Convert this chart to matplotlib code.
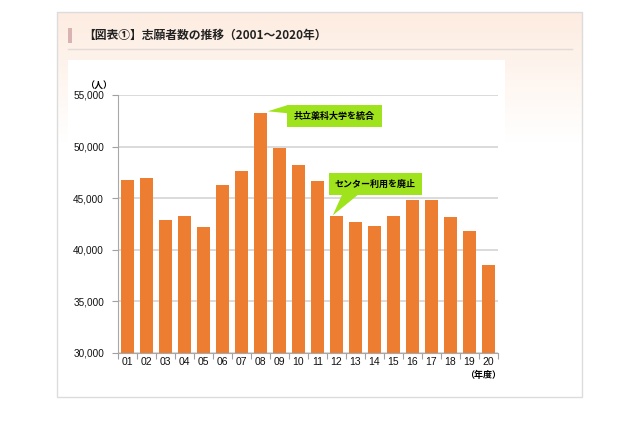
import numpy as np
import matplotlib
matplotlib.use("Agg")
from matplotlib import pyplot as plt
from matplotlib.patches import Rectangle, Polygon

plt.rcParams['font.family'] = ['Liberation Sans', 'Noto Sans CJK JP', 'DejaVu Sans']

# Data
years = ["01", "02", "03", "04", "05", "06", "07", "08", "09", "10",
         "11", "12", "13", "14", "15", "16", "17", "18", "19", "20"]
applicants = [46800, 47000, 42900, 43250, 42200, 46300, 47650, 53300, 49900, 48200,
              46700, 43250, 42700, 42350, 43280, 44800, 44830, 43200, 41800, 38500]
y_ticks = [30000, 35000, 40000, 45000, 50000, 55000]
title = "【図表①】志願者数の推移（2001～2020年）"
note1 = "共立薬科大学を統合"
note2 = "センター利用を廃止"

W, H = 640, 437
fig = plt.figure(figsize=(W / 100, H / 100), dpi=100)
fig.patch.set_facecolor("white")

# Background layer in pixel coordinates
bg = fig.add_axes([0, 0, 1, 1])
bg.set_xlim(0, W)
bg.set_ylim(H, 0)
bg.axis("off")

# peach gradient inside the frame
grad = np.linspace(0, 1, 200).reshape(-1, 1)
top = np.array([253, 236, 224]) / 255
white = np.array([1.0, 1.0, 1.0])
mix = np.clip(grad * 3.0, 0, 1)
img = top[None, None, :] * (1 - mix[..., None]) + white[None, None, :] * mix[..., None]
bg.imshow(img, extent=[57, 582, 397, 12], aspect="auto", zorder=0)
bg.add_patch(Rectangle((57, 12), 525, 385, fill=False, ec="#dcdcdc", lw=1, zorder=1))
bg.add_patch(Rectangle((68, 60), 437, 330, fc="white", ec="none", zorder=1))
bg.add_patch(Rectangle((68, 28), 4, 15, fc="#d9b3b3", ec="none", zorder=2))
bg.plot([68, 572], [49, 49], color="#e3dcd6", lw=1, zorder=2)
bg.text(83, 35.5, title, fontsize=8.5, fontweight="bold", color="#222222",
        family=["Noto Sans CJK JP"], va="center", ha="left", zorder=3)

# Chart
ax = fig.add_axes([118 / W, 1 - 353 / H, 380 / W, 258 / H])
ax.set_facecolor("none")
x = np.arange(len(years))
ax.bar(x, applicants, width=0.65, color="#ED7D31", zorder=3)
ax.set_xlim(-0.5, len(years) - 0.5)
ax.set_ylim(30000, 55000)
ax.set_yticks(y_ticks)
ax.set_yticklabels([f"{v:,}" for v in y_ticks], fontsize=7.2, color="#111111")
ax.set_xticks(x)
ax.set_xticklabels(years, fontsize=7.5, color="#111111")
ax.set_xticks(np.arange(-0.5, len(years), 1.0), minor=True)
ax.tick_params(axis="x", which="major", length=0, pad=3)
ax.tick_params(axis="x", which="minor", length=4, color="#a0a0a0", width=0.8)
ax.tick_params(axis="y", length=4, color="#a0a0a0", width=0.8, pad=6)
ax.grid(axis="y", color="#d4d4d4", lw=1.2, zorder=0)
for s in ["top", "right"]:
    ax.spines[s].set_visible(False)
for s in ["left", "bottom"]:
    ax.spines[s].set_color("#a8a8a8")
    ax.spines[s].set_linewidth(0.8)
ax.spines["left"].set_zorder(4)
ax.spines["bottom"].set_zorder(4)

ax.text(-1.55, 55900, "（人）", fontsize=6.5, fontweight="bold", family=["Noto Sans CJK JP"],
        ha="center", va="center", clip_on=False)
ax.text(18.7, 27800, "（年度）", fontsize=6.5, fontweight="bold",
        family=["Noto Sans CJK JP"], ha="center", va="center", clip_on=False)

green = "#9FE31C"
# callout 1 -> bar 08
i8 = years.index("08")
b1 = (8.39, 51900, 5.0, 2130)
ax.add_patch(Rectangle(b1[:2], b1[2], b1[3], fc=green, ec="none", zorder=5, clip_on=False))
ax.add_patch(Polygon([(i8 + 0.38, applicants[i8] + 120), (b1[0] + 0.05, b1[1] + b1[3]),
                      (b1[0] + 0.05, b1[1] + b1[3] - 800)],
                     closed=True, fc=green, ec="none", zorder=5, clip_on=False))
ax.text(b1[0] + b1[2] / 2, b1[1] + b1[3] / 2, note1, fontsize=6.5, fontweight="bold",
        family=["Noto Sans CJK JP"], ha="center", va="center", zorder=6)

# callout 2 -> bar 12
i12 = years.index("12")
b2 = (10.6, 45310, 4.9, 2130)
ax.add_patch(Rectangle(b2[:2], b2[2], b2[3], fc=green, ec="none", zorder=5, clip_on=False))
ax.add_patch(Polygon([(i12 - 0.2, applicants[i12] + 80), (11.29, b2[1] + 20), (12.13, b2[1] + 20)],
                     closed=True, fc=green, ec="none", zorder=5, clip_on=False))
ax.text(b2[0] + b2[2] / 2, b2[1] + b2[3] / 2, note2, fontsize=6.5, fontweight="bold",
        family=["Noto Sans CJK JP"], ha="center", va="center", zorder=6)

fig.savefig("out.png", dpi=100)
